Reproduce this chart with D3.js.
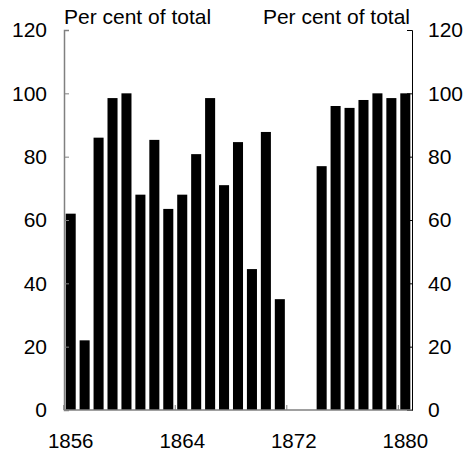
<!DOCTYPE html>
<html>
<head>
<meta charset="utf-8">
<script src="https://cdn.jsdelivr.net/npm/d3@7"></script>
<style>
  body { margin: 0; background: #fff; }
  svg text { font-family: "Liberation Sans", Arial, sans-serif; fill: #000; }
</style>
</head>
<body>
<svg id="chart" width="468" height="454"></svg>
<script>
// share of total, per year (1872 and 1873 have no value)
const years = d3.range(1856, 1881);
const values = [62, 22, 86, 98.5, 100, 68, 85.3, 63.5, 68, 80.8, 98.5, 71, 84.6, 44.5, 87.8, 35,
                null, null, 77, 96, 95.4, 97.9, 100, 98.5, 100];
const yTicks = [0, 20, 40, 60, 80, 100, 120];
const xLabels = [1856, 1864, 1872, 1880];
const unitLabel = "Per cent of total";

const svg = d3.select("#chart");
const plotLeft = 64, plotRight = 412, plotTop = 30, plotBottom = 410;
const fontSize = 21;

const x = d3.scaleBand()
    .domain(years)
    .range([plotLeft, plotRight])
    .paddingInner(0.28)
    .paddingOuter(0.12);

const y = d3.scaleLinear()
    .domain([0, 120])
    .range([plotBottom, plotTop]);

// bars
svg.append("g")
    .selectAll("rect")
    .data(years.map((yr, i) => ({ yr, v: values[i] })).filter(d => d.v != null))
    .join("rect")
    .attr("x", d => x(d.yr))
    .attr("width", x.bandwidth())
    .attr("y", d => y(d.v))
    .attr("height", d => y(0) - y(d.v))
    .attr("fill", "#000");

// left axis
const gl = svg.append("g")
    .attr("transform", `translate(${plotLeft},0)`)
    .call(d3.axisLeft(y).tickValues(yTicks).tickSize(-5).tickPadding(17));
gl.select(".domain").attr("stroke", "#808080").attr("stroke-width", 1.5);
gl.selectAll(".tick line").attr("stroke", "#808080");

// right axis
const gr = svg.append("g")
    .attr("transform", `translate(${plotRight},0)`)
    .call(d3.axisRight(y).tickValues(yTicks).tickSize(-5).tickPadding(16));
gr.select(".domain").attr("stroke", "#000");

[gl, gr].forEach(g => {
    g.attr("font-family", null).attr("font-size", null);
    g.selectAll(".tick text").attr("font-size", fontSize).attr("fill", "#000");
});

// bottom axis
const step = x.step();
const gap = x.paddingInner() * step / 2;
svg.append("line")
    .attr("x1", plotLeft).attr("x2", plotRight)
    .attr("y1", plotBottom).attr("y2", plotBottom)
    .attr("stroke", "#808080").attr("stroke-width", 1.5);

svg.append("g")
    .selectAll("line")
    .data(xLabels)
    .join("line")
    .attr("x1", d => x(d) - gap)
    .attr("x2", d => x(d) - gap)
    .attr("y1", plotBottom)
    .attr("y2", plotBottom - 5)
    .attr("stroke", "#808080");

svg.append("g")
    .selectAll("text")
    .data(xLabels)
    .join("text")
    .attr("x", d => x(d) + x.bandwidth() / 2)
    .attr("y", 448)
    .attr("text-anchor", "middle")
    .attr("font-size", 20.5)
    .text(d => d);

// unit labels
svg.append("text")
    .attr("x", 64).attr("y", 24)
    .attr("font-size", fontSize)
    .text(unitLabel);

svg.append("text")
    .attr("x", 410).attr("y", 24)
    .attr("text-anchor", "end")
    .attr("font-size", fontSize)
    .text(unitLabel);
</script>
</body>
</html>
